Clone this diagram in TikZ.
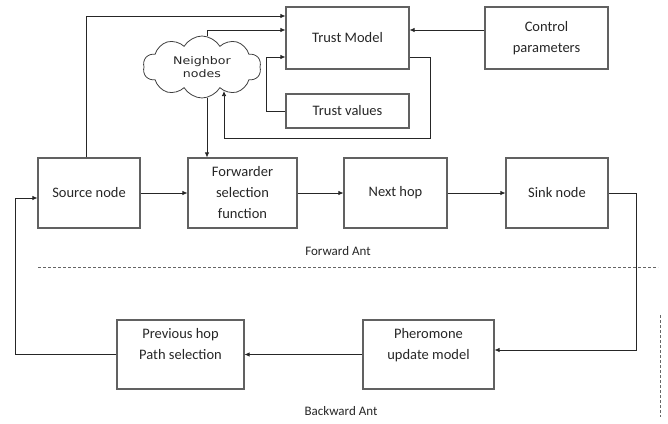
\documentclass[tikz,border=0pt]{standalone}
\usepackage{fontspec}
\setmainfont{Carlito}
\newfontfamily\cloudfont[FakeStretch=1.2]{DejaVu Sans}
\usetikzlibrary{shapes.symbols,arrows.meta}
\begin{document}
\begin{tikzpicture}[x=1pt,y=-1pt,
  box/.style={draw=black!62, line width=1.1pt, align=center, inner sep=0pt,
              font=\fontsize{14.5}{21}\selectfont, text=black!85},
  arr/.style={-{Latex[length=5pt,width=4.5pt]}, line width=0.75pt, draw=black!85},
  sep/.style={dash pattern=on 3pt off 2pt, line width=0.9pt, draw=black!60},
  caption/.style={font=\fontsize{13}{15}\selectfont, text=black!85}]
\useasboundingbox (0,0) rectangle (668,423);

% trust block
\node[box, minimum width=123pt, minimum height=62pt] (tm) at (347.5,38) {Trust Model};
\node[box, minimum width=123pt, minimum height=62pt] (cp) at (546.5,38) {Control\\parameters};
\node[box, minimum width=123pt, minimum height=34pt] (tv) at (347.5,111) {Trust values};
\node[cloud, draw=black!75, line width=0.8pt, cloud puffs=10, cloud puff arc=120, aspect=1.9,
      minimum width=118pt, minimum height=62pt, inner sep=0pt, align=center,
      font=\cloudfont\fontsize{10.5}{13.5}\selectfont, text=black!85] (nb) at (202,67) {Neighbor\\nodes};

% forward path
\node[box, minimum width=102pt, minimum height=70pt] (src) at (89,193) {Source node};
\node[box, minimum width=109pt, minimum height=70pt] (fw) at (242.5,193) {Forwarder\\selection\\function};
\node[box, minimum width=103pt, minimum height=70pt] (nh) at (395.5,193) {Next hop};
\node[box, minimum width=102pt, minimum height=70pt] (sk) at (557,193) {Sink node};

% backward path
\node[box, minimum width=131pt, minimum height=69pt] (ph) at (428.5,354.5) {Pheromone\\update model\\ };
\node[box, minimum width=127pt, minimum height=69pt] (pv) at (180.5,354.5) {Previous hop\\Path selection\\ };

\node[caption] (fa) at (338,251) {Forward Ant};
\node[caption] (ba) at (341,411) {Backward Ant};

% separators
\draw[sep] (38,267) -- (658,267);
\draw[sep] (660,315) -- (660,417);

% connectors of the trust block
\draw[arr] ([xshift=-3pt]src.north) |- (tm.west |- 0,16);
\draw[arr] ([xshift=5pt]nb.north) |- (tm.west |- 0,30);
\draw[arr] (cp.west |- 0,30) -- (tm.east |- 0,30);
\draw[arr] (tv.west) -- ++(-19,0) |- (tm.west |- 0,57);
\coordinate (nbin) at (224,91);
\draw[arr] (tm.east |- 0,57) -- (430,57) |- (224,138) -- (nbin);
\draw[arr] ([xshift=5pt]nb.south) -- ([xshift=5pt]nb.south |- fw.north);

% forward ant
\draw[arr] (src) -- (fw);
\draw[arr] (fw) -- (nh);
\draw[arr] (nh) -- (sk);
\draw[arr] (sk.east) -- ++(28,0) |- (ph.east |- 0,350);

% backward ant
\draw[arr] (ph.west) -- (pv.east);
\draw[arr] (pv.west) -- (15,354.5) |- ([yshift=-5pt]src.west);
\end{tikzpicture}
\end{document}
